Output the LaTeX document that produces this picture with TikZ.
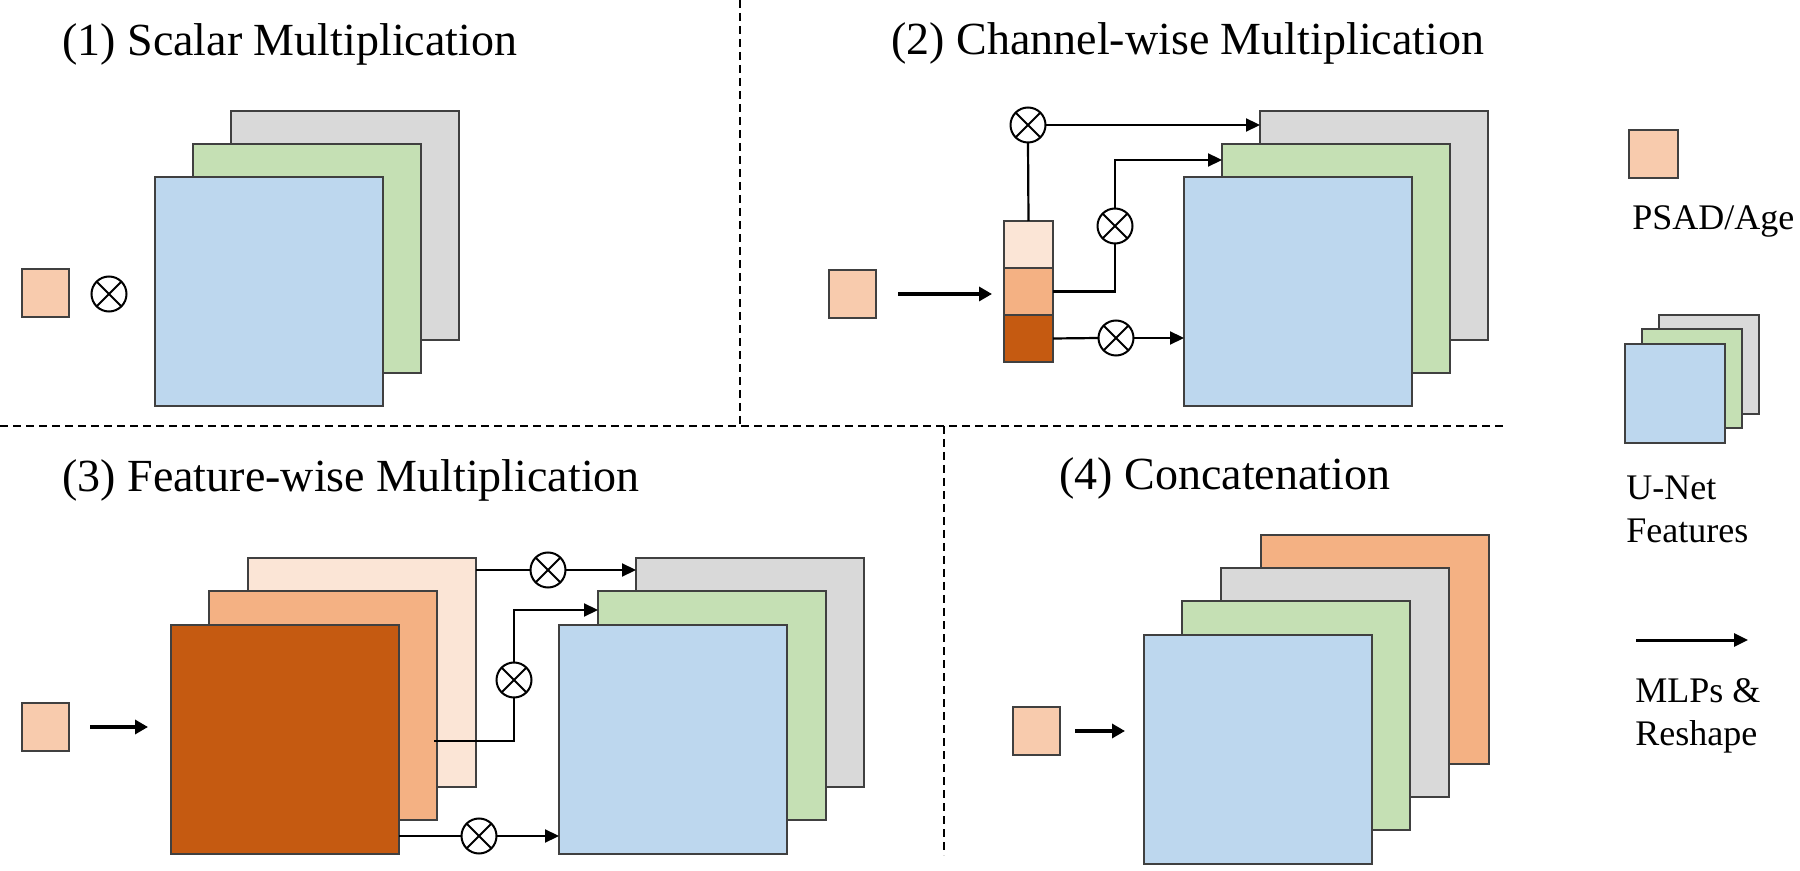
\documentclass[tikz,border=0pt]{standalone}
\usepackage{fontspec}
\setmainfont{Liberation Serif}
\usetikzlibrary{arrows.meta,calc}
\definecolor{fblue}{HTML}{BDD7EE}
\definecolor{fgreen}{HTML}{C5E0B4}
\definecolor{fgray}{HTML}{D9D9D9}
\definecolor{olight}{HTML}{FBE5D6}
\definecolor{opsad}{HTML}{F8CBAD}
\definecolor{omid}{HTML}{F4B183}
\definecolor{odark}{HTML}{C55A11}
\definecolor{bordc}{HTML}{404040}
\tikzset{
  fmap/.style={draw=bordc, line width=0.75pt, minimum width=114pt, minimum height=114.5pt, anchor=north west, inner sep=0pt, outer sep=0pt},
  smap/.style={draw=bordc, line width=0.75pt, minimum width=50pt, minimum height=49.5pt, anchor=north west, inner sep=0pt, outer sep=0pt},
  insq/.style={draw=bordc, line width=0.75pt, fill=opsad, minimum width=23.5pt, minimum height=24pt, anchor=north west, inner sep=0pt, outer sep=0pt},
  vseg/.style={draw=bordc, line width=0.6pt, minimum width=24.5pt, minimum height=23.5pt, anchor=north west, inner sep=0pt, outer sep=0pt},
  otimesnode/.style={circle, draw=black, line width=1pt, fill=white, minimum size=17.5pt, inner sep=0pt, outer sep=0pt,
    path picture={\draw[line width=1pt] (path picture bounding box.south west) -- (path picture bounding box.north east)
      (path picture bounding box.north west) -- (path picture bounding box.south east);}},
  conn/.style={line width=1.1pt, draw=black},
  carr/.style={conn, -{Triangle[length=7pt,width=6.5pt]}},
  inarr/.style={line width=2pt, draw=black, -{Triangle[length=6.5pt,width=7pt]}},
  legarr/.style={line width=1.5pt, draw=black, -{Triangle[length=7pt,width=6.5pt]}},
  sep/.style={line width=1pt, draw=black, dash pattern=on 4pt off 2.5pt},
  ttl/.style={anchor=base west, inner sep=0pt, font=\fontsize{23}{27}\selectfont},
  leg/.style={anchor=base west, inner sep=0pt, font=\fontsize{18}{21.5}\selectfont},
}
\begin{document}
\begin{tikzpicture}[x=0.5pt,y=-0.5pt]
\useasboundingbox[fill=white] (0,0) rectangle (1800,871);

% separators
\coordinate (s1a) at (740,0);
\coordinate (s1b) at (740,426);
\coordinate (h1a) at (0,426);
\coordinate (h1b) at (1507,426);
\coordinate (s2a) at (944,426);
\coordinate (s2b) at (944,855);
\draw[sep] (s1a) -- (s1b);
\draw[sep] (h1a) -- (h1b);
\draw[sep] (s2a) -- (s2b);

% ---------- (1) Scalar Multiplication
\node[ttl] (t1) at (62,56) {(1) Scalar Multiplication};
\node[fmap, fill=fgray]  (gr1) at (231,111) {};
\node[fmap, fill=fgreen] (gn1) at (193,144) {};
\node[fmap, fill=fblue]  (bl1) at (155,177) {};
\node[insq] (sq1) at (22,269) {};
\node[otimesnode] (ot1) at (109,294) {};

% ---------- (2) Channel-wise Multiplication
\node[ttl] (t2) at (891,55) {(2) Channel-wise Multiplication};
\node[fmap, fill=fgray]  (gr2) at (1260,111) {};
\node[fmap, fill=fgreen] (gn2) at (1222,144) {};
\node[fmap, fill=fblue]  (bl2) at (1184,177) {};
\node[insq] (sq2) at (829,270) {};
\node[vseg, fill=olight] (v1) at (1004,221) {};
\node[vseg, fill=omid]   (v2) at (1004,268) {};
\node[vseg, fill=odark]  (v3) at (1004,315) {};
\node[otimesnode] (ot2a) at (1028,125) {};
\node[otimesnode] (ot2b) at (1115,226) {};
\node[otimesnode] (ot2c) at (1116,338) {};
\coordinate (c2) at (1115,160);
\draw[inarr, shorten <=11pt, shorten >=6pt] (sq2.east) -- (sq2.east -| v2.west);
\draw[conn] (v1.north) -- (ot2a.south);
\draw[carr] (ot2a.east) -- (ot2a -| gr2.west);
\draw[conn] (v2.east) -| (ot2b.south);
\draw[carr] (ot2b.north) -- (c2) -- (c2 -| gn2.west);
\draw[conn] (v3.east) -- (ot2c.west);
\draw[carr] (ot2c.east) -- (ot2c -| bl2.west);

% ---------- (3) Feature-wise Multiplication
\node[ttl] (t3) at (62,492) {(3) Feature-wise Multiplication};
\node[fmap, fill=olight] (l3) at (248,558) {};
\node[fmap, fill=omid]   (m3) at (209,591) {};
\node[fmap, fill=odark]  (d3) at (171,625) {};
\node[fmap, fill=fgray]  (gr3) at (636,558) {};
\node[fmap, fill=fgreen] (gn3) at (598,591) {};
\node[fmap, fill=fblue]  (bl3) at (559,625) {};
\node[insq] (sq3) at (22,703) {};
\node[otimesnode] (ot3a) at (548,570) {};
\node[otimesnode] (ot3b) at (514,680) {};
\node[otimesnode] (ot3c) at (479,836) {};
\coordinate (c3) at (514,610);
\draw[inarr, shorten <=10.5pt, shorten >=11.5pt] (sq3.east) -- (sq3.east -| d3.west);
\draw[conn] (l3.east |- ot3a) -- (ot3a.west);
\draw[carr] (ot3a.east) -- (ot3a -| gr3.west);
\draw[conn] ($(m3.north east)+(-3,150)$) -| (ot3b.south);
\draw[carr] (ot3b.north) -- (c3) -- (c3 -| gn3.west);
\draw[conn] (d3.east |- ot3c) -- (ot3c.west);
\draw[carr] (ot3c.east) -- (ot3c -| bl3.west);

% ---------- (4) Concatenation
\node[ttl] (t4) at (1059,490) {(4) Concatenation};
\node[fmap, fill=omid]   (or4) at (1261,535) {};
\node[fmap, fill=fgray]  (gr4) at (1221,568) {};
\node[fmap, fill=fgreen] (gn4) at (1182,601) {};
\node[fmap, fill=fblue]  (bl4) at (1144,635) {};
\node[insq] (sq4) at (1013,707) {};
\draw[inarr, shorten <=7.5pt, shorten >=9.5pt] (sq4.east) -- (sq4.east -| bl4.west);

% ---------- Legend
\node[insq, minimum width=24.5pt] (lsq) at (1629,130) {};
\node[leg] (lt1) at (1632,230) {PSAD/Age};
\node[smap, fill=fgray]  (lg1) at (1659,315) {};
\node[smap, fill=fgreen] (lg2) at (1642,329) {};
\node[smap, fill=fblue]  (lg3) at (1625,344) {};
\node[leg] (lt2) at (1626,500) {U-Net};
\node[leg] (lt3) at (1626,543) {Features};
\coordinate (la) at (1636,640);
\coordinate (lb) at (1748,640);
\draw[legarr] (la) -- (lb);
\node[leg] (lt4) at (1635,702) {MLPs \&};
\node[leg] (lt5) at (1635,745) {Reshape};
\end{tikzpicture}
\end{document}
